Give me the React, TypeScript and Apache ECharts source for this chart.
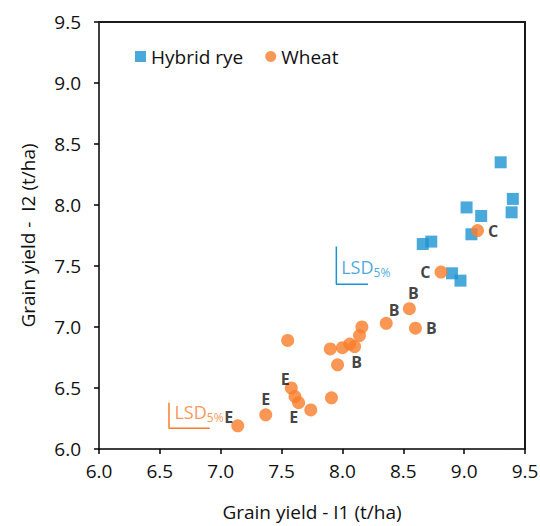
import React, { useEffect, useRef } from "react";
import * as echarts from "echarts";

const ryeX = [9.3, 9.4, 9.39, 9.02, 9.14, 9.06, 8.66, 8.73, 8.9, 8.97];
const ryeY = [8.35, 8.05, 7.94, 7.98, 7.91, 7.76, 7.68, 7.7, 7.44, 7.38];

const wheatX = [9.11, 8.81, 8.55, 8.36, 8.6, 8.16, 8.14, 8.1, 8.06, 8.0, 7.9, 7.55, 7.96, 7.58, 7.61, 7.64, 7.74, 7.91, 7.37, 7.14];
const wheatY = [7.79, 7.45, 7.15, 7.03, 6.99, 7.0, 6.93, 6.84, 6.86, 6.83, 6.82, 6.89, 6.69, 6.5, 6.43, 6.38, 6.32, 6.42, 6.28, 6.19];
const wheatGroup = ["C", "C", "B", "B", "B", "", "", "B", "", "", "", "", "", "E", "", "E", "", "", "E", "E"];

// LSD (least significant difference) brackets in data units
const lsdRye = { x: [7.95, 7.95, 8.21], y: [7.66, 7.35, 7.35] };
const lsdWheat = { x: [6.575, 6.575, 6.91], y: [6.38, 6.17, 6.17] };
const lsdRyeTextAt = [7.99, 7.49];
const lsdWheatTextAt = [6.62, 6.3];

const AX_MIN = 6;
const AX_MAX = 9.5;

const BLUE = "#1B93D2";
const ORANGE = "#FA7D2A";
const FONT = "Open Sans";
const TXT = "#111";

const W = 540;
const H = 526;
const GRID = { left: 99, right: 15, top: 22, bottom: 77 };

// label placements (style only)
const tagStyle: Record<number, any> = {
  0: { position: "right", distance: 4 },
  1: { position: "left", distance: 4 },
  2: { position: "top", distance: 1, offset: [4, 0] },
  3: { position: "top", distance: 1, offset: [8, 2] },
  4: { position: "right", distance: 4 },
  7: { position: "bottom", distance: 1, offset: [2, 0] },
  13: { position: "top", distance: 0, offset: [-6, 5] },
  15: { position: "bottom", distance: 0, offset: [-5, 0] },
  18: { position: "top", distance: 1 },
  19: { position: "left", distance: 2, offset: [4, -9] },
};

export default function App() {
  const ref = useRef<HTMLDivElement>(null);
  useEffect(() => {
    if (!ref.current) return;
    const chart = echarts.init(ref.current, undefined, { renderer: "svg" });
    const ryeData = ryeX.map((x, i) => [x, ryeY[i]]);
    const wheatData = wheatX.map((x, i) => {
      const item: any = { value: [x, wheatY[i]] };
      if (wheatGroup[i]) {
        item.label = {
          show: true,
          formatter: wheatGroup[i],
          color: TXT,
          fontWeight: "bold",
          fontSize: 16,
          fontFamily: FONT,
          ...tagStyle[i],
        };
      }
      return item;
    });
    const lsdText = (color: string) => ({
      show: true,
      position: "right",
      distance: 0,
      formatter: "{a|LSD}{b|5%}",
      rich: {
        a: { fontSize: 18, color, fontFamily: FONT },
        b: { fontSize: 12, color, fontFamily: FONT, padding: [10, 0, 0, 0] },
      },
    });
    const axisCommon = {
      type: "value",
      min: AX_MIN,
      max: AX_MAX,
      interval: 0.5,
      nameLocation: "middle",
      nameTextStyle: { fontSize: 19, color: TXT, fontFamily: FONT },
      axisLine: { show: true, onZero: false, lineStyle: { color: "#000", width: 1.5 } },
      axisTick: { show: true, length: 5, lineStyle: { color: "#000", width: 1.5 } },
      splitLine: { show: false },
    };
    chart.setOption({
      animation: false,
      textStyle: { fontFamily: FONT },
      grid: {
        ...GRID,
        containLabel: false,
        outerBoundsMode: "none",
      },
      graphic: {
        elements: [
          {
            type: "line",
            silent: true,
            z: 100,
            shape: { x1: GRID.left, y1: GRID.top, x2: W - GRID.right, y2: GRID.top },
            style: { stroke: "#1a1a1a", lineWidth: 2 },
          },
          {
            type: "line",
            silent: true,
            z: 100,
            shape: { x1: W - GRID.right, y1: GRID.top, x2: W - GRID.right, y2: H - GRID.bottom },
            style: { stroke: "#1a1a1a", lineWidth: 2 },
          },
        ],
      },
      legend: {
        data: [
          { name: "Hybrid rye", icon: "rect" },
          { name: "Wheat", icon: "circle" },
        ],
        left: 130,
        top: 42,
        itemWidth: 11,
        itemHeight: 11,
        itemGap: 22,
        textStyle: { fontSize: 19, color: TXT, fontFamily: FONT },
      },
      xAxis: {
        ...axisCommon,
        name: "Grain yield - I1 (t/ha)",
        nameGap: 53,
        axisLabel: { fontSize: 19, color: TXT, margin: 12, formatter: (v: number) => v.toFixed(1) },
      },
      yAxis: {
        ...axisCommon,
        name: "Grain yield -  I2 (t/ha)",
        nameGap: 62,
        axisLabel: { fontSize: 19, color: TXT, margin: 18, formatter: (v: number) => v.toFixed(1) },
      },
      series: [
        { name: "Hybrid rye", type: "scatter", symbol: "rect", symbolSize: 12, itemStyle: { color: BLUE }, data: ryeData, z: 2 },
        { name: "Wheat", type: "scatter", symbol: "circle", symbolSize: 13, itemStyle: { color: ORANGE }, data: wheatData, z: 3 },
        {
          type: "line",
          silent: true,
          symbol: "none",
          lineStyle: { color: BLUE, width: 1.5 },
          data: lsdRye.x.map((x, i) => [x, lsdRye.y[i]]),
        },
        {
          type: "line",
          silent: true,
          symbol: "none",
          lineStyle: { color: ORANGE, width: 1.5 },
          data: lsdWheat.x.map((x, i) => [x, lsdWheat.y[i]]),
        },
        { type: "scatter", silent: true, symbolSize: 0, data: [lsdRyeTextAt], label: lsdText(BLUE) },
        { type: "scatter", silent: true, symbolSize: 0, data: [lsdWheatTextAt], label: lsdText(ORANGE) },
      ],
    });
    return () => chart.dispose();
  }, []);
  return (
    <div style={{ position: "absolute", left: 0, top: 0, width: W, height: H, background: "#fff" }}>
      <div ref={ref} style={{ position: "absolute", left: 0, top: 0, width: W, height: H }} />
      <div
        style={{
          position: "absolute",
          left: GRID.left - 1,
          top: GRID.top - 1,
          width: W - GRID.left - GRID.right,
          height: H - GRID.top - GRID.bottom,
          borderTop: "2px solid #1a1a1a",
          borderRight: "2px solid #1a1a1a",
          pointerEvents: "none",
        }}
      />
    </div>
  );
}
